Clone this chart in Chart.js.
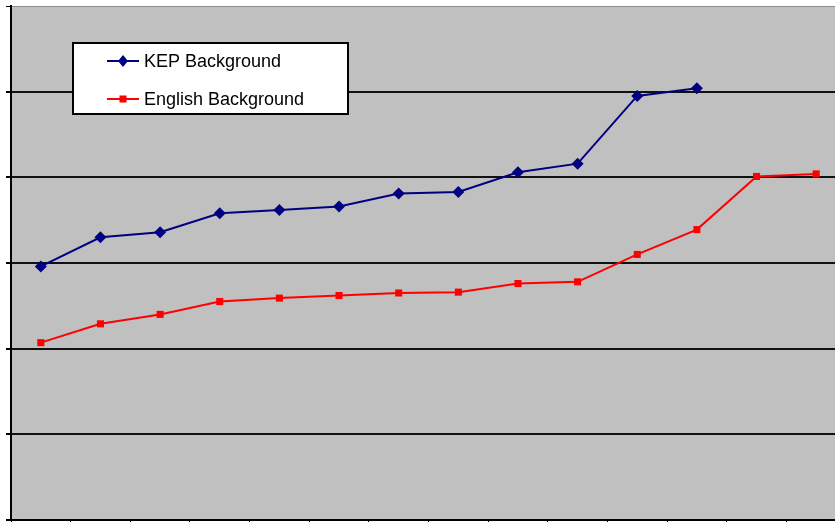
<!DOCTYPE html>
<html>
<head>
<meta charset="utf-8">
<script src="https://cdn.jsdelivr.net/npm/chart.js@4.4.0/dist/chart.umd.min.js"></script>
<style>
  html, body { margin: 0; padding: 0; background: #fff; overflow: hidden; }
  #wrap { width: 835px; height: 522px; overflow: hidden; position: relative; }
  #chart { display: block; }
</style>
</head>
<body>
<div id="wrap"><canvas id="chart" width="852" height="526"></canvas></div>
<script>
  // categories (no visible labels in the original)
  var categories = ["1", "2", "3", "4", "5", "6", "7", "8", "9", "10", "11", "12", "13", "14"];

  // series
  var kepBackground = [2.96, 3.30, 3.36, 3.58, 3.62, 3.66, 3.81, 3.83, 4.06, 4.16, 4.95, 5.04];
  var englishBackground = [2.07, 2.29, 2.40, 2.55, 2.59, 2.62, 2.65, 2.66, 2.76, 2.78, 3.10, 3.39, 4.01, 4.04];

  var yMin = 0, yMax = 6, yStep = 1;

  // gray plot background
  var plotBackground = {
    id: "plotBackground",
    beforeDraw: function (chart) {
      var a = chart.chartArea, c = chart.ctx;
      c.save();
      c.fillStyle = "#c0c0c0";
      c.fillRect(a.left, a.top, a.right - a.left, a.bottom - a.top);
      c.restore();
    }
  };

  // boxed legend inside the plot
  var boxLegend = {
    id: "boxLegend",
    afterDraw: function (chart) {
      var c = chart.ctx;
      c.save();
      c.fillStyle = "#fff";
      c.fillRect(73, 43, 275, 71);
      c.lineWidth = 2;
      c.strokeStyle = "#000";
      c.strokeRect(73, 43, 275, 71);

      chart.data.datasets.forEach(function (ds, i) {
        var y = 61 + i * 38;
        c.strokeStyle = ds.borderColor;
        c.lineWidth = 2;
        c.beginPath();
        c.moveTo(107, y);
        c.lineTo(139, y);
        c.stroke();
        c.fillStyle = ds.pointBackgroundColor;
        c.beginPath();
        if (ds.pointStyle === "rectRot") {
          c.moveTo(123, y - 6);
          c.lineTo(128, y);
          c.lineTo(123, y + 6);
          c.lineTo(118, y);
          c.closePath();
          c.fill();
        } else {
          c.fillRect(119.5, y - 3.5, 7, 7);
        }
        c.fillStyle = "#000";
        c.font = '18px "Liberation Sans", Arial, sans-serif';
        c.textBaseline = "middle";
        c.fillText(ds.label, 144, y + 1);
      });
      c.restore();
    }
  };

  var ctx = document.getElementById("chart").getContext("2d");
  var myChart = new Chart(ctx, {
    type: "line",
    data: {
      labels: categories,
      datasets: [{
        label: "KEP Background",
        data: kepBackground,
        borderColor: "#000080",
        backgroundColor: "#000080",
        pointBackgroundColor: "#000080",
        pointBorderColor: "#000080",
        borderWidth: 2,
        pointStyle: "rectRot",
        pointRadius: 6,
        pointBorderWidth: 0,
        tension: 0
      },
      {
        label: "English Background",
        data: englishBackground,
        borderColor: "#ff0000",
        backgroundColor: "#ff0000",
        pointBackgroundColor: "#ff0000",
        pointBorderColor: "#ff0000",
        borderWidth: 2,
        pointStyle: "rect",
        pointRadius: 5,
        pointBorderWidth: 0,
        tension: 0
      }]
    },
    options: {
      responsive: false,
      animation: false,
      devicePixelRatio: 1,
      layout: { padding: { left: 6, top: 5, right: 0, bottom: 0 } },
      plugins: {
        legend: { display: false },
        tooltip: { enabled: false }
      },
      scales: {
        x: {
          offset: true,
          grid: {
            offset: true,
            drawOnChartArea: false,
            drawTicks: true,
            tickLength: 6,
            color: "#000",
            lineWidth: 1
          },
          border: { color: "#000", width: 2 },
          ticks: { display: false }
        },
        y: {
          min: yMin,
          max: yMax,
          ticks: { display: false, stepSize: yStep },
          grid: {
            tickLength: 5,
            lineWidth: function (c) { return c.tick && c.tick.value === yMax ? 1 : 2; },
            color: function (c) { return c.tick && c.tick.value === yMax ? "#8c8c8c" : "#111"; },
            tickColor: "#000"
          },
          border: { color: "#000", width: 2 }
        }
      }
    },
    plugins: [plotBackground, boxLegend]
  });
</script>
</body>
</html>
